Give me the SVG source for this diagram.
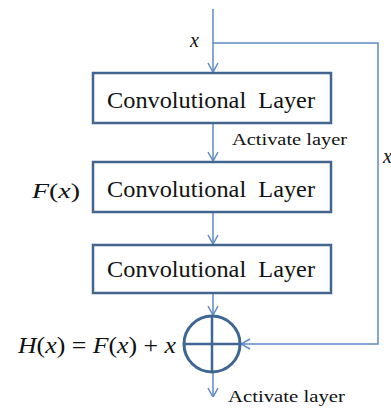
<svg xmlns="http://www.w3.org/2000/svg" width="391" height="409" viewBox="0 0 391 409">
<style>
.box{fill:#fff;stroke:#43668f;stroke-width:2.5}
.ln{fill:none;stroke:#5f8ac4;stroke-width:1.5}
.lbl{font-family:"Liberation Serif",serif;fill:#111}
.math{font-family:"Liberation Serif",serif;font-style:italic;fill:#111}
.up{font-style:normal}
</style>
<defs>
<marker id="ah" viewBox="0 0 10 12" refX="10" refY="6" markerWidth="10" markerHeight="12" markerUnits="userSpaceOnUse" orient="auto">
<path d="M1,1 L10,6 L1,11" fill="none" stroke="#5f8ac4" stroke-width="1.5"/>
</marker>
</defs>
<rect width="391" height="409" fill="#fff"/>
<g id="connectors">
<line class="ln" x1="213" y1="9" x2="213" y2="72" marker-end="url(#ah)"/>
<polyline class="ln" points="213,43 378,43 378,344 241,344" marker-end="url(#ah)"/>
<line class="ln" x1="213" y1="124" x2="213" y2="161" marker-end="url(#ah)"/>
<line class="ln" x1="213" y1="213" x2="213" y2="244" marker-end="url(#ah)"/>
<line class="ln" x1="213" y1="294" x2="213" y2="315" marker-end="url(#ah)"/>
<line class="ln" x1="213" y1="373" x2="213" y2="397" marker-end="url(#ah)"/>
<text class="lbl" x="232" y="145" font-size="17" textLength="115" lengthAdjust="spacingAndGlyphs">Activate layer</text>
<text class="lbl" x="228" y="402" font-size="17" textLength="117" lengthAdjust="spacingAndGlyphs">Activate layer</text>
<text class="math" x="190" y="47" font-size="20">x</text>
<text class="math" x="383" y="163" font-size="20">x</text>
</g>
<g id="conv1">
<rect class="box" x="93" y="73" width="238" height="50"/>
<text class="lbl" x="107" y="108" font-size="23" textLength="208" lengthAdjust="spacingAndGlyphs" xml:space="preserve">Convolutional  Layer</text>
</g>
<g id="conv2">
<rect class="box" x="93" y="162" width="238" height="50"/>
<text class="lbl" x="107" y="197" font-size="23" textLength="208" lengthAdjust="spacingAndGlyphs" xml:space="preserve">Convolutional  Layer</text>
<text class="math" x="32" y="198" font-size="22" textLength="48" lengthAdjust="spacingAndGlyphs">F<tspan class="up">(</tspan>x<tspan class="up">)</tspan></text>
</g>
<g id="conv3">
<rect class="box" x="93" y="245" width="238" height="48"/>
<text class="lbl" x="107" y="277" font-size="23" textLength="208" lengthAdjust="spacingAndGlyphs" xml:space="preserve">Convolutional  Layer</text>
</g>
<g id="sum">
<circle cx="212" cy="344" r="28" fill="none" stroke="#3f6794" stroke-width="3"/>
<line x1="184" y1="344" x2="240" y2="344" stroke="#3f6794" stroke-width="2.5"/>
<line x1="212" y1="316" x2="212" y2="372" stroke="#3f6794" stroke-width="2.5"/>
<text class="math" x="18" y="353" font-size="24" textLength="158" lengthAdjust="spacingAndGlyphs">H<tspan class="up">(</tspan>x<tspan class="up">)</tspan><tspan class="up"> = </tspan>F<tspan class="up">(</tspan>x<tspan class="up">)</tspan><tspan class="up"> + </tspan>x</text>
</g>
</svg>
